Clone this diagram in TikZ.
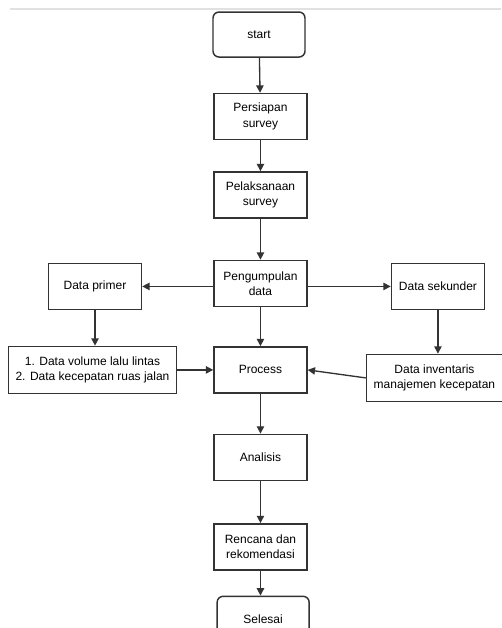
\documentclass[tikz,border=0pt]{standalone}
\usepackage{fontspec}
\setmainfont{Liberation Sans}
\usetikzlibrary{positioning,arrows.meta}
\definecolor{boxgray}{RGB}{51,51,51}
\definecolor{rulegray}{RGB}{225,225,225}

\begin{document}
\begin{tikzpicture}[
    font=\fontsize{9}{11.5}\selectfont,
    proc/.style={draw=boxgray, line width=1.1pt, minimum width=69.75pt,
                 minimum height=34.5pt, align=center, inner sep=1pt},
    term/.style={proc, rounded corners=4.5pt, minimum width=69pt,
                 minimum height=33.75pt},
    arr/.style={-{Triangle[length=5.5pt,width=5.5pt]}, line width=1pt, draw=boxgray}
]
\useasboundingbox (0,0) rectangle (375.75pt,-471pt);
\draw[rulegray, line width=0.8pt] (7.5pt,-6.75pt) -- (375.75pt,-6.75pt);
% main column
\node[term] (start) at (194.25pt,-25.9pt) {start};
\node[proc, below=26.25pt of start, xshift=1.1pt] (persiapan) {Persiapan\\survey};
\node[proc, below=23.25pt of persiapan] (pelaksanaan) {Pelaksanaan\\survey};
\node[proc, below=30.75pt of pelaksanaan] (pengumpulan) {Pengumpulan\\data};
\node[proc, below=29.25pt of pengumpulan] (process) {Process};
\node[proc, below=30pt of process] (analisis) {Analisis};
\node[proc, below=31.5pt of analisis] (rencana) {Rencana dan\\rekomendasi};
\node[term, below=18.75pt of rencana, xshift=2pt] (selesai) {Selesai};
% side branches
\node[proc, left=53.25pt of pengumpulan, yshift=-2.25pt] (primer) {Data primer};
\node[proc, right=62.25pt of pengumpulan, yshift=-2.25pt] (sekunder) {Data sekunder};
\node[proc, minimum width=126pt, minimum height=35.25pt, left=27pt of process] (volume)
    {1. Data volume lalu lintas\\2. Data kecepatan ruas jalan};
\node[proc, minimum width=102pt, minimum height=35.25pt, right=43.5pt of process, yshift=-6pt] (inventaris)
    {Data inventaris\\manajemen kecepatan};
% connectors
\draw[arr] (start) -- (persiapan);
\draw[arr] (persiapan) -- (pelaksanaan);
\draw[arr] (pelaksanaan) -- (pengumpulan);
\draw[arr] (pengumpulan) -- (process);
\draw[arr] (process) -- (analisis);
\draw[arr] (analisis) -- (rencana);
\draw[arr] (rencana) -- (rencana.south |- selesai.north);
\draw[arr] (pengumpulan.west |- primer) -- (primer);
\draw[arr] (pengumpulan.east |- sekunder) -- (sekunder);
\draw[arr] (primer) -- (primer |- volume.north);
\draw[arr] (sekunder) -- (sekunder |- inventaris.north);
\draw[arr] (volume) -- (process);
\draw[arr] (inventaris.west) -- (process.east);
\end{tikzpicture}
\end{document}
